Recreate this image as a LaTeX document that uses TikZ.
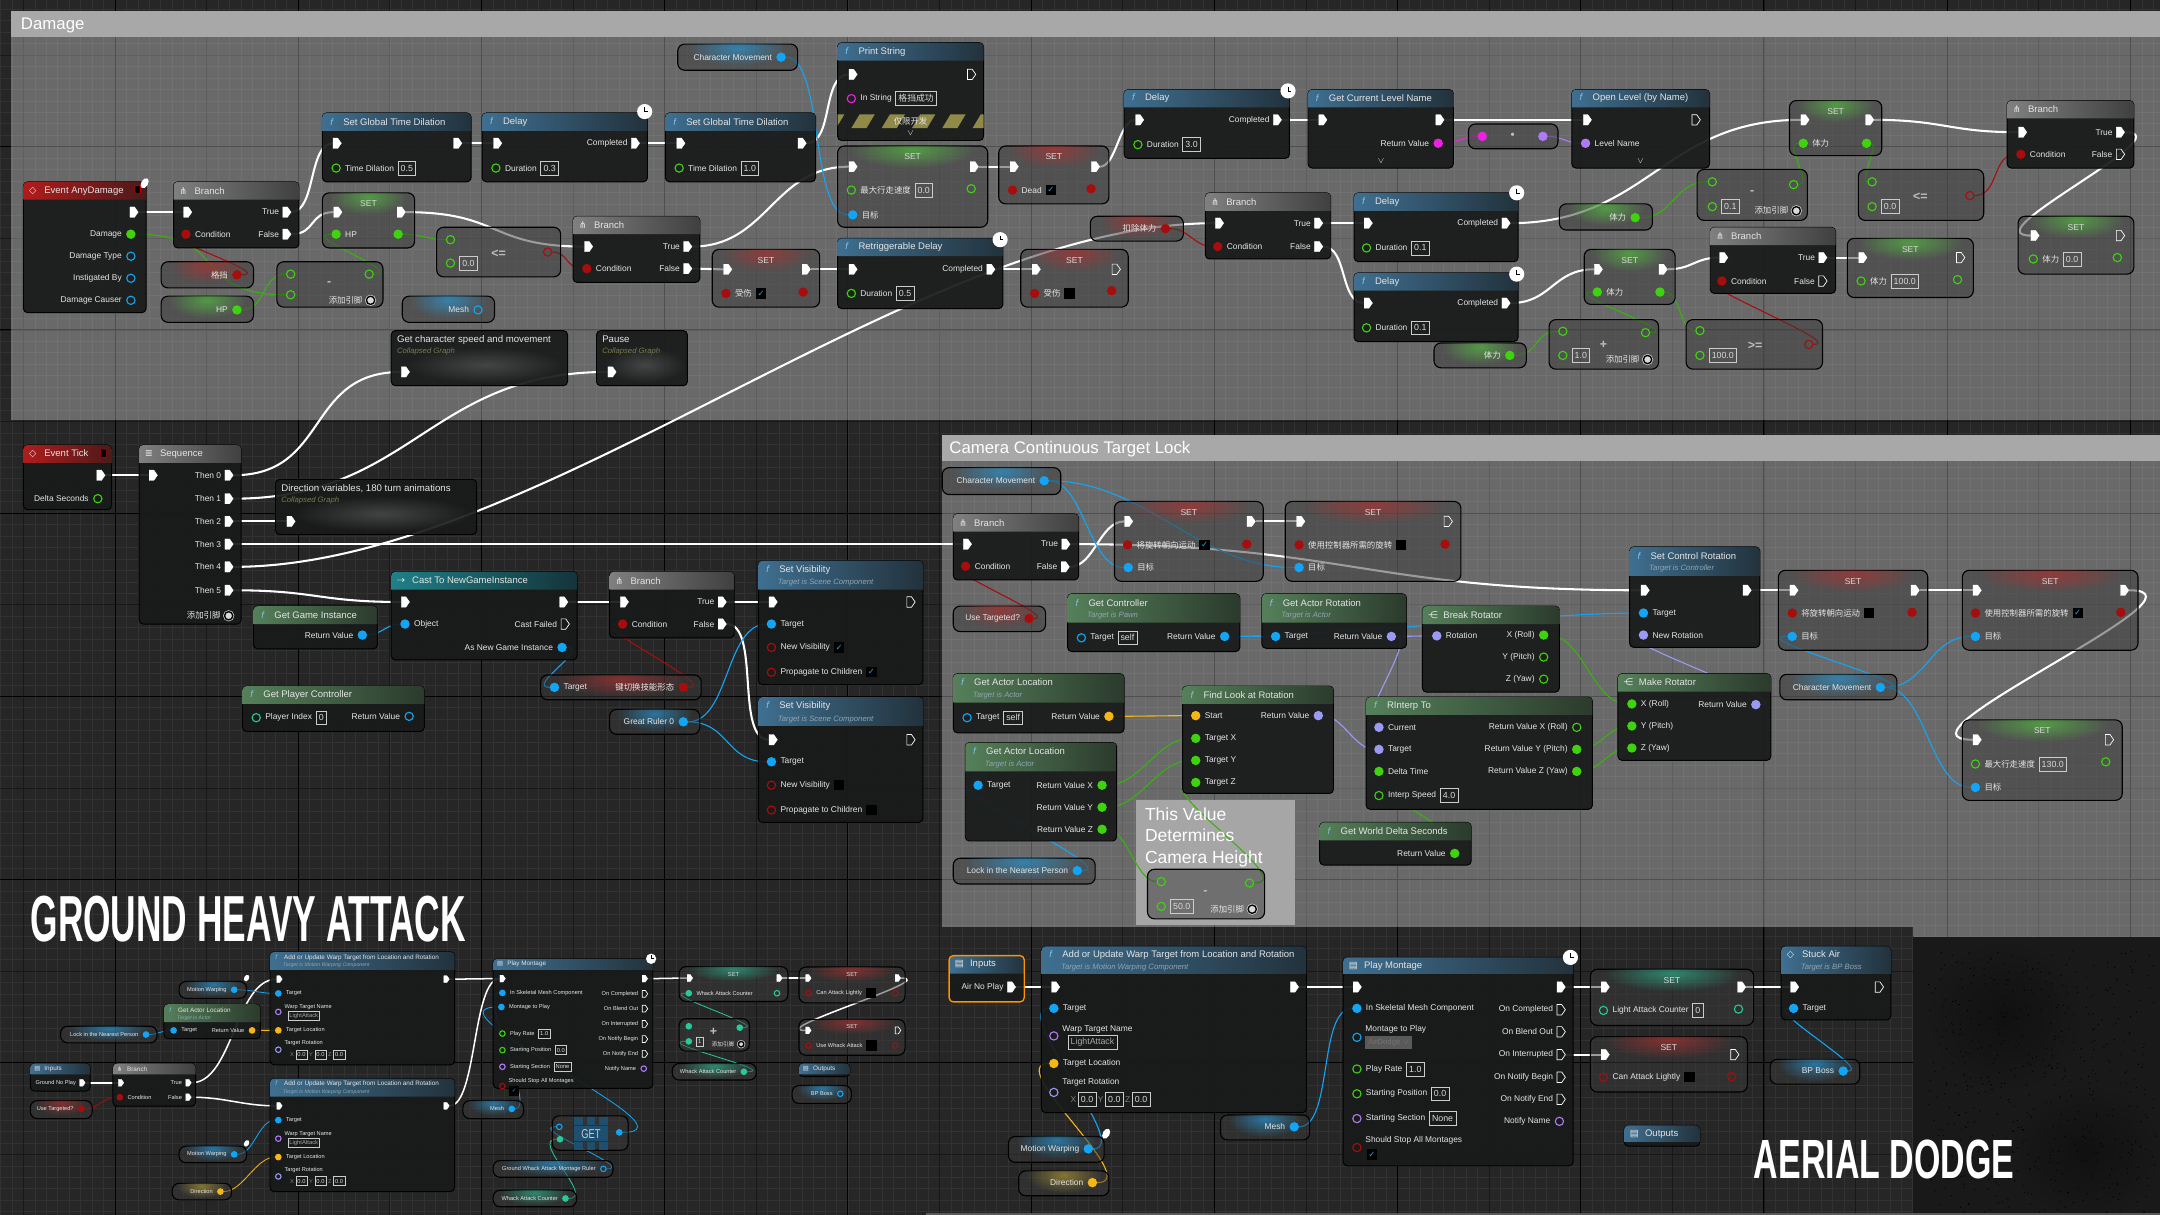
\documentclass[tikz,border=0pt]{standalone}
\usepackage{fontspec}
\setmainfont{Liberation Sans}
\newfontfamily\zhfont{Noto Sans CJK SC}
\newfontfamily\symfont{DejaVu Sans}
\usetikzlibrary{positioning,calc,shapes.symbols,shapes.geometric,fadings}
\pgfdeclarelayer{gridlayer}
\pgfdeclarelayer{wirelayer}
\pgfsetlayers{gridlayer,wirelayer,main}
\definecolor{bgdark}{HTML}{262626}
\definecolor{minorline}{HTML}{323232}
\definecolor{majorline}{HTML}{181818}
\definecolor{nodebg}{HTML}{191B1B}
\definecolor{cpbg}{HTML}{3A3A3A}
\definecolor{pgreen}{HTML}{3FD30F}
\definecolor{pblue}{HTML}{12A5F5}
\definecolor{pred}{HTML}{A80D0D}
\definecolor{pyellow}{HTML}{F5B616}
\definecolor{ppurple}{HTML}{B07AF5}
\definecolor{pmag}{HTML}{F020E0}
\definecolor{pteal}{HTML}{27C99A}
\definecolor{plav}{HTML}{9A9AF5}
\definecolor{ficol}{HTML}{7FC4F0}
\definecolor{subcol}{HTML}{8FA6B5}
\definecolor{clpcol}{HTML}{7A7B4E}
\definecolor{glowred}{HTML}{B03030}
\definecolor{glowgreen}{HTML}{55C040}
\definecolor{glowblue}{HTML}{2A9AD8}
\definecolor{glowteal}{HTML}{2FB58F}
\definecolor{glowyel}{HTML}{B09A35}
\definecolor{getblue}{HTML}{1F4F6E}
\definecolor{HfuncL}{HTML}{3F6F90}
\definecolor{HfuncR}{HTML}{22323C}
\definecolor{HpureL}{HTML}{55805A}
\definecolor{HpureR}{HTML}{2B3A2C}
\definecolor{HevL}{HTML}{B01C1C}
\definecolor{HevR}{HTML}{4B1A1A}
\definecolor{HcastL}{HTML}{1F8088}
\definecolor{HcastR}{HTML}{14343A}
\tikzfading[name=glowfade, inner color=transparent!35, outer color=transparent!100]
\newcommand{\lblfont}{\fontsize{6.1}{7}\selectfont}
\newcommand{\ttlfont}{\fontsize{6.9}{8}\selectfont}
\newcommand{\subfont}{\fontsize{5.6}{7}\itshape\selectfont}
\newcommand{\valfont}{\fontsize{6.4}{7}\selectfont}
\newcommand{\cpfont}{\fontsize{6.2}{7}\selectfont}
\newcommand{\psz}{6pt}
\newcommand{\esw}{6pt}
\newcommand{\esh}{7.5pt}
\newcommand{\ew}{1.5pt}
\newcommand{\dw}{.8pt}
\newcommand{\vsep}{2pt}
\newcommand{\vht}{10pt}
\newcommand{\cksz}{11pt}
\newcommand{\icw}{11pt}
\newcommand{\hA}{13}
\newcommand{\hB}{21}
\newcommand{\us}{1}
\newcommand{\zh}[1]{{\zhfont #1}}
\newcommand{\icf}{\makebox[\icw][l]{\hspace{.14\dimexpr\icw\relax}{\itshape\textcolor{ficol}{f}}}}
\newcommand{\icb}{\makebox[\icw][l]{\symfont ⋔}}
\newcommand{\icd}{\makebox[\icw][l]{\symfont ◇}}
\newcommand{\ics}{\makebox[\icw][l]{\symfont ≣}}
\newcommand{\icc}{\makebox[\icw][l]{\symfont ⇢}}
\newcommand{\icr}{\makebox[\icw][l]{\symfont ⋲}}
\newcommand{\icm}{\makebox[\icw][l]{\symfont ▤}}
\tikzset{
  bpbody/.style  = {rectangle, rounded corners=3pt, draw=black, line width=.7pt, fill=nodebg,
                    fill opacity=.93, anchor=north west, inner sep=0pt, outer sep=0pt},
  cpbody/.style  = {rectangle, rounded corners=5pt, draw=black, line width=.8pt, fill=cpbg,
                    fill opacity=.5, anchor=north west, inner sep=0pt, outer sep=0pt},
  ttl/.style     = {anchor=west, font=\ttlfont, text=white!90!black, inner sep=0pt},
  subttl/.style  = {anchor=west, font=\subfont, text=subcol, inner sep=0pt},
  clpsub/.style  = {anchor=west, font=\subfont, text=clpcol, inner sep=0pt},
  cptitle/.style = {font=\cpfont, text=white!85!black, inner sep=0pt},
  mathsym/.style = {font=\bfseries\fontsize{9}{9}\selectfont, text=white!75!black, inner sep=0pt},
  lbl/.style     = {font=\lblfont, text=white!90!black, inner sep=1pt},
  valbox/.style  = {draw=white!80!black, line width=.4pt, font=\valfont, text=white!85!black,
                    inner xsep=\vsep, inner ysep=0pt, minimum height=\vht},
  chkbox/.style  = {fill=black, inner sep=0pt, minimum size=7.5pt, text=pblue, font=\symfont\lblfont},
  execpin/.style = {signal, signal to=east, signal pointer angle=110, inner sep=0pt,
                    minimum width=\esw, minimum height=\esh, fill=white, draw=white, line width=.2pt},
  exechol/.style = {execpin, fill=none, line width=.5pt},
  dpin/.style    = {circle, inner sep=0pt, minimum size=\psz, line width=.8pt},
  gpin/.style    = {dpin, fill=pgreen, draw=pgreen},
  gring/.style   = {dpin, draw=pgreen},
  bpin/.style    = {dpin, fill=pblue, draw=pblue},
  bring/.style   = {dpin, draw=pblue},
  rpin/.style    = {dpin, fill=pred, draw=pred},
  rring/.style   = {dpin, draw=pred},
  ypin/.style    = {dpin, fill=pyellow, draw=pyellow},
  ppin/.style    = {dpin, fill=ppurple, draw=ppurple},
  pring/.style   = {dpin, draw=ppurple},
  mpin/.style    = {dpin, fill=pmag, draw=pmag},
  mring/.style   = {dpin, draw=pmag},
  tpin/.style    = {dpin, fill=pteal, draw=pteal},
  tring/.style   = {dpin, draw=pteal},
  lpin/.style    = {dpin, fill=plav, draw=plav},
  lring/.style   = {dpin, draw=plav},
  wring/.style   = {dpin, draw=white!85!black, fill=white!85!black, double=black, double distance=1pt, line width=.5pt},
  clockdot/.style= {circle, fill=white, inner sep=0pt, minimum size=\cksz, path picture={
                    \draw[black, line width=.5pt] (path picture bounding box.center) ++(0,-3) -- ++(0,3) -- ++(2.4,0);}},
  wdot/.style    = {ellipse, fill=white, inner sep=0pt, minimum width=5pt, minimum height=8pt, rotate=-30},
  hfunc/.style   = {left color=HfuncL, right color=HfuncR},
  hpure/.style   = {left color=HpureL, right color=HpureR},
  hgray/.style   = {left color=white!50!black, right color=black!75},
  hevent/.style  = {left color=HevL, right color=HevR},
  hcast/.style   = {left color=HcastL, right color=HcastR},
  ewire/.style   = {white, line width=\ew},
  dwire/.style   = {line width=\dw},
  gw/.style      = {dwire, pgreen!85!black},
  bw/.style      = {dwire, pblue},
  rw/.style      = {dwire, pred},
  yw/.style      = {dwire, pyellow},
  lw/.style      = {dwire, plav},
  mw/.style      = {dwire, pmag},
  pw/.style      = {dwire, ppurple},
  tw/.style      = {dwire, pteal},
  bigttl/.style  = {anchor=north west, inner sep=0pt, text=white, font=\bfseries},
  cmttl/.style   = {anchor=west, inner sep=0pt, text=white, font=\fontsize{12.2}{14}\selectfont},
}
\newcommand{\bpnode}[7]{%
  \node[bpbody,minimum width={(#4-#2)*1pt},minimum height={(#5-#3)*1pt}] (#1) at (#2,#3) {};
  \path[#6] (#2,{#3+\hA}) [rounded corners=3pt] -- (#2,#3) -- (#4,#3) [sharp corners] -- (#4,{#3+\hA}) -- cycle;
  \node[ttl] (#1-t) at ($(#2,#3)+(4*\us,\hA/2)$) {#7};}
\newcommand{\bpsub}[8]{%
  \node[bpbody,minimum width={(#4-#2)*1pt},minimum height={(#5-#3)*1pt}] (#1) at (#2,#3) {};
  \path[#6] (#2,{#3+\hB}) [rounded corners=3pt] -- (#2,#3) -- (#4,#3) [sharp corners] -- (#4,{#3+\hB}) -- cycle;
  \node[ttl] (#1-t) at ($(#2,#3)+(4*\us,\hB*.31)$) {#7};
  \node[subttl] (#1-s) at ($(#2,#3)+(14*\us,\hB*.76)$) {#8};}
\newcommand{\cpvar}[6]{%
  \node[cpbody,minimum width={(#4-#2)*1pt},minimum height={(#5-#3)*1pt}] (#1) at (#2,#3) {};
  \begin{scope}
    \clip[rounded corners=5pt] (#2,#3) rectangle (#4,#5);
    \fill[#6,path fading=glowfade] ({#2+.08*(#4-#2)},{#3-10*\us}) rectangle ({#4-.08*(#4-#2)},{#3+16*\us});
  \end{scope}}
\newcommand{\cpnode}[7]{%
  \cpvar{#1}{#2}{#3}{#4}{#5}{#6}
  \node[cptitle] (#1-t) at ({(#2+#4)/2},{#3+8*\us}) {#7};}
\newcommand{\cpmath}[8]{%
  \node[cpbody,minimum width={(#4-#2)*1pt},minimum height={(#5-#3)*1pt}] (#1) at (#2,#3) {};
  \node[mathsym] (#1-s) at (#6,#7) {#8};}
\newcommand{\clpnode}[6]{%
  \node[bpbody,minimum width={(#4-#2)*1pt},minimum height={(#5-#3)*1pt}] (#1) at (#2,#3) {};
  \fill[white!35!black,path fading=glowfade] ({#2+.08*(#4-#2)},{#3+12}) rectangle ({#4-.02*(#4-#2)},{#5-2});
  \node[ttl,font=\fontsize{7}{8}\selectfont] (#1-t) at ({#2+4},{#3+6.5}) {#6};
  \node[clpsub] (#1-s) at ({#2+4},{#3+15.5}) {Collapsed Graph};}
\newcommand{\execin}[4]{\node[execpin] (#1) at (#2,#3) {}; \node[lbl,right=1.5pt of #1] (#1-l) {#4};}
\newcommand{\execout}[4]{\node[execpin] (#1) at (#2,#3) {}; \node[lbl,left=1.5pt of #1] (#1-l) {#4};}
\newcommand{\exechl}[4]{\node[exechol] (#1) at (#2,#3) {}; \node[lbl,left=1.5pt of #1] (#1-l) {#4};}
\newcommand{\pinl}[5]{\node[#4] (#1) at (#2,#3) {}; \node[lbl,right=2pt of #1] (#1-l) {#5};}
\newcommand{\pinr}[5]{\node[#4] (#1) at (#2,#3) {}; \node[lbl,left=2pt of #1] (#1-l) {#5};}
\newcommand{\pindot}[4]{\node[#4] (#1) at (#2,#3) {};}
\newcommand{\valb}[2]{\node[valbox,right=1.5pt of #1-l] (#1-v) {#2};}
\newcommand{\valp}[2]{\node[valbox,right=3pt of #1] (#1-v) {#2};}
\newcommand{\chkb}[2]{\node[chkbox,right=1.5pt of #1-l] (#1-c) {#2};}
\newcommand{\addpin}[3]{\node[wring] (#1) at (#2,#3) {}; \node[lbl,left=1.5pt of #1] (#1-l) {\zh{添加引脚}};}
\newcommand{\clockat}[3]{\node[clockdot] (#1) at (#2,#3) {};}
\newcommand{\chev}[3]{\node[lbl] (#1) at (#2,#3) {$\vee$};}
\newcommand{\wirex}[3]{\draw[ewire] (#1.east) .. controls +(#3,0) and +(-#3,0) .. (#2.west);}
\newcommand{\wired}[4]{\draw[#1] (#2.east) .. controls +(#4,0) and +(-#4,0) .. (#3.west);}
\newcommand{\warpnode}[5]{%
  \bpsub{#1}{#2}{#3}{#4}{#5}{hfunc}{\icf Add or Update Warp Target from Location and Rotation}{Target is Motion Warping Component}
  \execin{#1-in}{{#2+9*\us}}{{#3+29.5*\us}}{}
  \execout{#1-out}{{#4-10*\us}}{{#3+29.5*\us}}{}
  \pinl{#1-tg}{{#2+9*\us}}{{#3+45*\us}}{bpin}{Target}
  \pindot{#1-wn}{{#2+9*\us}}{{#3+65*\us}}{pring}
  \node[lbl,anchor=west] (#1-wl) at ({#2+14*\us},{#3+60*\us}) {Warp Target Name};
  \node[valbox,text=white!65!black,anchor=west] (#1-wv) at ({#2+19*\us},{#3+69.5*\us}) {LightAttack};
  \pinl{#1-loc}{{#2+9*\us}}{{#3+85*\us}}{ypin}{Target Location}
  \pindot{#1-rot}{{#2+9*\us}}{{#3+106*\us}}{lring}
  \node[lbl,anchor=west] (#1-rl) at ({#2+14*\us},{#3+99*\us}) {Target Rotation};
  \node[lbl,text=white!50!black,anchor=west] (#1-xl) at ({#2+20*\us},{#3+111*\us}) {X};
  \node[valbox,right=0pt of #1-xl] (#1-xv) {0.0};
  \node[lbl,text=white!50!black,right=0pt of #1-xv] (#1-yl) {Y};
  \node[valbox,right=0pt of #1-yl] (#1-yv) {0.0};
  \node[lbl,text=white!50!black,right=0pt of #1-yv] (#1-zl) {Z};
  \node[valbox,right=0pt of #1-zl] (#1-zv) {0.0};}
\newcommand{\montnode}[5]{%
  \bpnode{#1}{#2}{#3}{#4}{#5}{hfunc}{\icm Play Montage}
  \clockat{#1-ck}{{#4-2*\us}}{#3}
  \execin{#1-in}{{#2+9*\us}}{{#3+21.5*\us}}{}
  \execout{#1-out}{{#4-10*\us}}{{#3+21.5*\us}}{}
  \pinl{#1-sk}{{#2+10*\us}}{{#3+37*\us}}{bpin}{In Skeletal Mesh Component}
  \pinl{#1-pr}{{#2+10*\us}}{{#3+81*\us}}{gring}{Play Rate} \valb{#1-pr}{1.0}
  \pinl{#1-sp}{{#2+10*\us}}{{#3+99*\us}}{gring}{Starting Position} \valb{#1-sp}{0.0}
  \pinl{#1-ss}{{#2+10*\us}}{{#3+117*\us}}{pring}{Starting Section} \valb{#1-ss}{None}
  \pindot{#1-st}{{#2+10*\us}}{{#3+138*\us}}{rring}
  \node[lbl,anchor=west] (#1-stl) at ({#2+15*\us},{#3+133*\us}) {Should Stop All Montages};
  \node[chkbox,anchor=west] (#1-stc) at ({#2+17*\us},{#3+143*\us}) {✓};
  \exechl{#1-oc}{{#4-10*\us}}{{#3+38*\us}}{On Completed}
  \exechl{#1-ob}{{#4-10*\us}}{{#3+54*\us}}{On Blend Out}
  \exechl{#1-oi}{{#4-10*\us}}{{#3+70.6*\us}}{On Interrupted}
  \exechl{#1-on}{{#4-10*\us}}{{#3+87*\us}}{On Notify Begin}
  \exechl{#1-oe}{{#4-10*\us}}{{#3+103*\us}}{On Notify End}
  \pinr{#1-nn}{{#4-10*\us}}{{#3+119*\us}}{pring}{Notify Name}}
\newcommand{\gridfill}{%
  \begin{scope}[shift={(-49.5,904.5)},y=1pt]
    \draw[minorline,line width=.5pt,step=8.3125] (0,0) grid (1680,960);
    \draw[majorline,line width=.6pt,step=66.5] (0,0) grid (1680,960);
    \draw[black,line width=.7pt,step=133] (0,0) grid (1680,960);
  \end{scope}}
\begin{document}
\begin{tikzpicture}[x=1pt,y=-1pt]
  \useasboundingbox (0,0) rectangle (1568,882);
  \begin{pgfonlayer}{gridlayer}
    \fill[bgdark] (0,0) rectangle (1568,882);
    \gridfill
    \fill[white,fill opacity=.31] (8,8) rectangle (1568,305);
    \fill[white!66!black] (8,8) rectangle (1568,27);
    \fill[white,fill opacity=.31] (683.5,316) rectangle (1568,680);
    \fill[white!66!black] (683.5,316) rectangle (1568,335);
    \begin{scope}
      \clip (0,673) rectangle (1389,882);
      \fill[bgdark] (0,673) rectangle (1389,882);
      \gridfill
    \end{scope}
    \fill[black!90] (1389,680) rectangle (1568,882);
    \fill[black,fill opacity=.5,path fading=glowfade] (1400,685) rectangle (1510,790);
    \fill[black,fill opacity=.5,path fading=glowfade] (1460,790) rectangle (1568,882);
    \pgfmathsetseed{7}
    \foreach \i in {1,...,500}
      \fill[black] ({1400+rnd*165},{690+rnd*190}) circle (.5);
    \fill[white!35!black] (672,880.5) rectangle (1568,882);
    \fill[white!65!black] (825,581) rectangle (940,671.5);
  \end{pgfonlayer}
  \node[cmttl] (damage-t) at (15,18.5) {Damage};
  \node[cmttl] (camera-t) at (689,326) {Camera Continuous Target Lock};
  \node[bigttl] (heavy-t) at (22,650) {\resizebox{316pt}{33pt}{GROUND HEAVY ATTACK}};
  \node[bigttl] (dodge-t) at (1273,827.5) {\resizebox{189pt}{28pt}{AERIAL DODGE}};
  \node[anchor=north west,inner sep=0pt,text=white,align=left,font=\fontsize{12.7}{15.6}\selectfont] (height-t) at (831,586)
    {This Value\\Determines\\Camera Height};

  \bpnode{anydmg}{17}{132}{106}{227}{hevent}{\icd Event AnyDamage}
  \node[draw=red!80!black,fill=black,rounded corners=.5pt,inner sep=0pt,minimum width=4pt,minimum height=6pt] (anydmg-sq) at (100,137.5) {};
  \node[wdot] (anydmg-dot) at (105,133) {};
  \execout{anydmg-x}{96}{154}{}
  \pinr{anydmg-d}{95}{170}{gpin}{Damage}
  \pinr{anydmg-dt}{95}{186}{bring}{Damage Type}
  \pinr{anydmg-ib}{95}{202}{bring}{Instigated By}
  \pinr{anydmg-dc}{95}{218}{bring}{Damage Causer}

  \bpnode{brA}{126}{132}{217}{180}{hgray}{\icb Branch}
  \execin{brA-in}{135}{154}{}
  \execout{brA-t}{207}{154}{True}
  \pinl{brA-c}{135}{170}{rpin}{Condition}
  \execout{brA-f}{207}{170}{False}

  \bpnode{sgtdA}{234}{82}{342}{132}{hfunc}{\icf Set Global Time Dilation}
  \execin{sgtdA-in}{243.5}{104}{}
  \execout{sgtdA-out}{331}{104}{}
  \pinl{sgtdA-v}{244}{122}{gring}{Time Dilation} \valb{sgtdA-v}{0.5}

  \bpnode{dlyA}{350}{82}{470}{132}{hfunc}{\icf Delay}
  \clockat{dlyA-ck}{468}{81}
  \execin{dlyA-in}{360}{104}{}
  \execout{dlyA-out}{460}{104}{Completed}
  \pinl{dlyA-v}{360}{122}{gring}{Duration} \valb{dlyA-v}{0.3}

  \bpnode{sgtdB}{483}{82}{592}{132}{hfunc}{\icf Set Global Time Dilation}
  \execin{sgtdB-in}{493}{104}{}
  \execout{sgtdB-out}{581}{104}{}
  \pinl{sgtdB-v}{493}{122}{gring}{Time Dilation} \valb{sgtdB-v}{1.0}

  \cpvar{charA}{492}{32}{579}{51}{glowblue}
  \pinr{charA-p}{567}{41.5}{bpin}{Character Movement}

  \bpnode{print}{608}{31}{714}{102}{hfunc}{\icf Print String}
  \execin{print-in}{618}{54}{}
  \exechl{print-out}{704}{54}{}
  \pinl{print-s}{618}{71.6}{mring}{In String} \valb{print-s}{\zh{格挡成功}}
  \begin{scope}
    \clip (608,83) rectangle (714,93);
    \foreach \hx in {596,618,...,720}
      \fill[yellow!50!black] (\hx,93) -- ({\hx+6},83) -- ({\hx+17},83) -- ({\hx+11},93) -- cycle;
  \end{scope}
  \node[lbl] (print-dev) at (661,88) {\zh{仅限开发}};
  \chev{print-ch}{661}{97}

  \cpnode{setHP}{234}{140}{301}{180}{glowgreen}{SET}
  \execin{setHP-in}{244}{154}{}
  \execout{setHP-out}{290}{154}{}
  \pinl{setHP-v}{244}{170}{gpin}{HP}
  \pindot{setHP-o}{289}{170}{gpin}

  \cpnode{setMax}{608}{106}{717}{165}{glowgreen}{SET}
  \execin{setMax-in}{618}{121}{}
  \execout{setMax-out}{706}{121}{}
  \pinl{setMax-v}{618}{138}{gring}{\zh{最大行走速度}} \valb{setMax-v}{0.0}
  \pindot{setMax-o}{705}{137}{gring}
  \pinl{setMax-tg}{619}{156}{bpin}{\zh{目标}}

  \cpnode{setDead}{725}{106}{805}{148}{glowred}{SET}
  \execin{setDead-in}{735}{121}{}
  \execout{setDead-out}{794}{121}{}
  \pinl{setDead-v}{735}{138}{rpin}{Dead} \chkb{setDead-v}{✓}
  \pindot{setDead-o}{792}{137}{rpin}

  \cpvar{varGd}{117}{190}{184}{209}{glowred}
  \pinr{varGd-p}{172}{199.5}{rpin}{\zh{格挡}}
  \cpvar{varHP}{117}{215}{184}{234}{glowgreen}
  \pinr{varHP-p}{172}{225}{gpin}{HP}
  \cpmath{subA}{201}{190}{278}{223}{239}{206}{-}
  \pindot{subA-a}{211}{199}{gring}
  \pindot{subA-b}{211}{214}{gring}
  \pindot{subA-o}{268}{199}{gring}
  \addpin{subA-add}{269}{218}

  \cpmath{leA}{317}{165}{407}{201}{362}{184}{<=}
  \pindot{leA-a}{327}{174}{gring}
  \pindot{leA-b}{327}{191}{gring} \valp{leA-b}{0.0}
  \pindot{leA-o}{397.5}{183}{rring}

  \bpnode{brB}{416}{157}{508}{205}{hgray}{\icb Branch}
  \execin{brB-in}{426}{179}{}
  \execout{brB-t}{498}{179}{True}
  \pinl{brB-c}{426}{195}{rpin}{Condition}
  \execout{brB-f}{498}{195}{False}

  \cpvar{varMesh}{292}{215}{359}{234}{glowblue}
  \pinr{varMesh-p}{347}{225}{bring}{Mesh}

  \cpnode{setHurtA}{517}{181}{595}{223}{glowred}{SET}
  \execin{setHurtA-in}{527}{195.5}{}
  \execout{setHurtA-out}{584}{195.5}{}
  \pinl{setHurtA-v}{527}{213}{rpin}{\zh{受伤}} \chkb{setHurtA-v}{✓}
  \pindot{setHurtA-o}{583}{212}{rpin}

  \bpnode{retrig}{608}{173}{728}{224}{hfunc}{\icf Retriggerable Delay}
  \clockat{retrig-ck}{726}{174}
  \execin{retrig-in}{618}{195.5}{}
  \execout{retrig-out}{718}{195.5}{Completed}
  \pinl{retrig-v}{618}{213}{gring}{Duration} \valb{retrig-v}{0.5}

  \cpnode{setHurtB}{741}{181}{819}{223}{glowred}{SET}
  \execin{setHurtB-in}{751}{195.5}{}
  \exechl{setHurtB-out}{809}{195.5}{}
  \pinl{setHurtB-v}{751}{213}{rpin}{\zh{受伤}} \chkb{setHurtB-v}{}
  \pindot{setHurtB-o}{807}{211}{rpin}

  \clpnode{clpSpeed}{284}{240}{412}{280}{Get character speed and movement}
  \execin{clpSpeed-in}{293}{270}{}
  \clpnode{clpPause}{433}{240}{499}{280}{Pause}
  \execin{clpPause-in}{443}{270}{}

  \bpnode{dlyB}{816}{65}{936}{115}{hfunc}{\icf Delay}
  \clockat{dlyB-ck}{935}{66}
  \execin{dlyB-in}{826}{87}{}
  \execout{dlyB-out}{926}{87}{Completed}
  \pinl{dlyB-v}{826}{105}{gring}{Duration} \valb{dlyB-v}{3.0}

  \bpnode{curLvl}{949.5}{65}{1055}{122}{hfunc}{\icf Get Current Level Name}
  \execin{curLvl-in}{959}{87}{}
  \execout{curLvl-out}{1044}{87}{}
  \pinr{curLvl-r}{1044}{104}{mpin}{Return Value}
  \chev{curLvl-ch}{1002.5}{117}

  \cpmath{conv}{1066}{90}{1131}{108}{1098}{98}{\tiny$\bullet$}
  \pindot{conv-a}{1076}{99}{mpin}
  \pindot{conv-b}{1120}{99}{ppin}

  \bpnode{openLvl}{1141}{65}{1241}{122}{hfunc}{\icf Open Level (by Name)}
  \execin{openLvl-in}{1151}{87}{}
  \exechl{openLvl-out}{1230}{87}{}
  \pinl{openLvl-n}{1151}{104}{ppin}{Level Name}
  \chev{openLvl-ch}{1191}{117}

  \cpnode{setStA}{1299}{73}{1366}{113}{glowgreen}{SET}
  \execin{setStA-in}{1309}{87}{}
  \execout{setStA-out}{1356}{87}{}
  \pinl{setStA-v}{1309}{104}{gpin}{\zh{体力}}
  \pindot{setStA-o}{1355}{104}{gpin}

  \bpnode{brF}{1457}{73}{1549}{122}{hgray}{\icb Branch}
  \execin{brF-in}{1467}{96}{}
  \execout{brF-t}{1538}{96}{True}
  \pinl{brF-c}{1467}{112}{rpin}{Condition}
  \exechl{brF-f}{1538}{112}{False}

  \cpmath{subB}{1232}{123}{1312}{160}{1272}{140}{-}
  \pindot{subB-a}{1243}{132}{gring}
  \pindot{subB-b}{1243}{150}{gring} \valp{subB-b}{0.1}
  \pindot{subB-o}{1302}{134}{gring}
  \addpin{subB-add}{1304}{153}

  \cpmath{leB}{1349}{123}{1440}{160}{1394}{143}{<=}
  \pindot{leB-a}{1359}{132}{gring}
  \pindot{leB-b}{1359}{150}{gring} \valp{leB-b}{0.0}
  \pindot{leB-o}{1430}{142}{rring}

  \cpvar{varCut}{791.5}{157}{859}{175}{glowred}
  \pinr{varCut-p}{846}{166}{rpin}{\zh{扣除体力}}

  \bpnode{brC}{875}{140}{966}{188}{hgray}{\icb Branch}
  \execin{brC-in}{884}{162}{}
  \execout{brC-t}{956}{162}{True}
  \pinl{brC-c}{884}{179}{rpin}{Condition}
  \execout{brC-f}{956}{179}{False}

  \bpnode{dlyC}{983}{140}{1102}{190}{hfunc}{\icf Delay}
  \clockat{dlyC-ck}{1101}{140}
  \execin{dlyC-in}{992}{162}{}
  \execout{dlyC-out}{1092}{162}{Completed}
  \pinl{dlyC-v}{992}{180}{gring}{Duration} \valb{dlyC-v}{0.1}

  \bpnode{dlyD}{983}{198}{1102}{248}{hfunc}{\icf Delay}
  \clockat{dlyD-ck}{1101}{199}
  \execin{dlyD-in}{992}{220}{}
  \execout{dlyD-out}{1092}{220}{Completed}
  \pinl{dlyD-v}{992}{238}{gring}{Duration} \valb{dlyD-v}{0.1}

  \cpvar{varStA}{1132}{148}{1199.5}{167}{glowgreen}
  \pinr{varStA-p}{1187}{158}{gpin}{\zh{体力}}
  \cpvar{varStB}{1041}{249}{1108}{267}{glowgreen}
  \pinr{varStB-p}{1096}{258}{gpin}{\zh{体力}}

  \cpnode{setStB}{1150}{181}{1216}{221}{glowgreen}{SET}
  \execin{setStB-in}{1159}{195.5}{}
  \execout{setStB-out}{1206}{195.5}{}
  \pinl{setStB-v}{1159.5}{212}{gpin}{\zh{体力}}
  \pindot{setStB-o}{1205}{212}{gpin}

  \cpmath{addA}{1124.5}{232}{1204}{268}{1164}{250}{+}
  \pindot{addA-a}{1134.5}{240.5}{gring}
  \pindot{addA-b}{1134.5}{258}{gring} \valp{addA-b}{1.0}
  \pindot{addA-o}{1194.5}{241.5}{gring}
  \addpin{addA-add}{1196}{261}

  \bpnode{brD}{1241.5}{165}{1332.5}{213}{hgray}{\icb Branch}
  \execin{brD-in}{1250}{187}{}
  \execout{brD-t}{1322}{187}{True}
  \pinl{brD-c}{1250}{204}{rpin}{Condition}
  \exechl{brD-f}{1322}{204}{False}

  \cpnode{setStC}{1341}{173}{1432.5}{216}{glowgreen}{SET}
  \execin{setStC-in}{1351}{187}{}
  \exechl{setStC-out}{1422}{187}{}
  \pinl{setStC-v}{1351}{204}{gring}{\zh{体力}} \valb{setStC-v}{100.0}
  \pindot{setStC-o}{1421}{203}{gring}

  \cpmath{geA}{1224}{232}{1323}{268}{1274}{251}{>=}
  \pindot{geA-a}{1234}{240}{gring}
  \pindot{geA-b}{1234}{258}{gring} \valp{geA-b}{100.0}
  \pindot{geA-o}{1313}{250}{rring}

  \cpnode{setStD}{1465}{157}{1549}{199}{glowgreen}{SET}
  \execin{setStD-in}{1476}{171}{}
  \exechl{setStD-out}{1538}{171}{}
  \pinl{setStD-v}{1476}{188}{gring}{\zh{体力}} \valb{setStD-v}{0.0}
  \pindot{setStD-o}{1537}{187}{gring}

  \bpnode{tick}{17}{323}{81}{370}{hevent}{\icd Event Tick}
  \node[draw=red!80!black,fill=black,rounded corners=.5pt,inner sep=0pt,minimum width=4pt,minimum height=6pt] (tick-sq) at (75,329) {};
  \execout{tick-x}{72}{345}{}
  \pinr{tick-d}{71}{362}{gring}{Delta Seconds}

  \bpnode{seq}{101}{323}{175}{453}{hgray}{\ics Sequence}
  \execin{seq-in}{110}{345}{}
  \execout{seq-a}{165}{345}{Then 0}
  \execout{seq-b}{165}{362}{Then 1}
  \execout{seq-c}{165}{378.5}{Then 2}
  \execout{seq-d}{165}{395}{Then 3}
  \execout{seq-e}{165}{411.5}{Then 4}
  \execout{seq-f}{165}{428.5}{Then 5}
  \addpin{seq-add}{166}{447}

  \clpnode{clpDir}{200}{348}{346}{388}{Direction variables, 180 turn animations}
  \execin{clpDir-in}{210}{378.5}{}

  \bpnode{cast}{284}{415}{419}{479}{hcast}{\icc Cast To NewGameInstance}
  \execin{cast-in}{293}{437}{}
  \execout{cast-out}{408}{437}{}
  \pinl{cast-o}{294}{453}{bpin}{Object}
  \exechl{cast-f}{409}{453}{Cast Failed}
  \pinr{cast-r}{408}{470}{bpin}{As New Game Instance}

  \bpnode{gameInst}{184}{440}{274}{471}{hpure}{\icf Get Game Instance}
  \pinr{gameInst-r}{263}{461}{bpin}{Return Value}

  \bpnode{playerC}{176}{498}{308}{531}{hpure}{\icf Get Player Controller}
  \pinl{playerC-i}{186}{521}{tring}{Player Index} \valb{playerC-i}{0}
  \pinr{playerC-r}{297}{520}{bring}{Return Value}

  \bpnode{brE}{442.5}{415}{533}{463}{hgray}{\icb Branch}
  \execin{brE-in}{452}{437}{}
  \execout{brE-t}{523}{437}{True}
  \pinl{brE-c}{452}{453}{rpin}{Condition}
  \execout{brE-f}{523}{453}{False}

  \bpsub{visA}{550.5}{407}{670}{497}{hfunc}{\icf Set Visibility}{Target is Scene Component}
  \execin{visA-in}{560}{437}{}
  \exechl{visA-out}{660}{437}{}
  \pinl{visA-tg}{560}{453}{bpin}{Target}
  \pinl{visA-n}{560}{470}{rring}{New Visibility} \chkb{visA-n}{✓}
  \pinl{visA-p}{560}{488}{rring}{Propagate to Children} \chkb{visA-p}{✓}

  \bpsub{visB}{550.5}{506}{670}{597}{hfunc}{\icf Set Visibility}{Target is Scene Component}
  \execin{visB-in}{560}{537}{}
  \exechl{visB-out}{660}{537}{}
  \pinl{visB-tg}{560}{553}{bpin}{Target}
  \pinl{visB-n}{560}{570}{rring}{New Visibility} \chkb{visB-n}{}
  \pinl{visB-p}{560}{588}{rring}{Propagate to Children} \chkb{visB-p}{}

  \cpvar{varKey}{392.5}{490}{509}{508}{glowred}
  \pinl{varKey-a}{402.5}{499}{bpin}{Target}
  \pinr{varKey-o}{496}{499}{rpin}{\zh{键切换技能形态}}
  \cpvar{varRuler}{442.5}{515}{508}{533}{glowblue}
  \pinr{varRuler-p}{496}{524}{bpin}{Great Ruler 0}

  \cpvar{charB}{684}{339.5}{770}{359}{glowblue}
  \pinr{charB-p}{758}{349}{bpin}{Character Movement}

  \bpnode{brG}{692}{373}{783}{421}{hgray}{\icb Branch}
  \execin{brG-in}{701}{395}{}
  \execout{brG-t}{772.5}{395}{True}
  \pinl{brG-c}{701}{411}{rpin}{Condition}
  \execout{brG-f}{772}{411.5}{False}

  \cpnode{setRotA}{809}{364}{917}{422}{glowred}{SET}
  \execin{setRotA-in}{818}{378.5}{}
  \execout{setRotA-out}{907}{378.5}{}
  \pinl{setRotA-v}{818.5}{395.5}{rpin}{\zh{将旋转朝向运动}} \chkb{setRotA-v}{✓}
  \pindot{setRotA-o}{905}{395}{rpin}
  \pinl{setRotA-tg}{819}{412}{bpin}{\zh{目标}}

  \cpnode{setCtlA}{933}{364}{1060.5}{422}{glowred}{SET}
  \execin{setCtlA-in}{943}{378.5}{}
  \exechl{setCtlA-out}{1050}{378.5}{}
  \pinl{setCtlA-v}{943}{395.5}{rpin}{\zh{使用控制器所需的旋转}} \chkb{setCtlA-v}{}
  \pindot{setCtlA-o}{1049}{395}{rpin}
  \pinl{setCtlA-tg}{943}{412}{bpin}{\zh{目标}}

  \cpvar{varUse}{692}{440}{759}{458.5}{glowred}
  \pinr{varUse-p}{747}{449}{rpin}{Use Targeted?}

  \bpsub{getCtl}{775}{431}{900}{473}{hpure}{\icf Get Controller}{Target is Pawn}
  \pinl{getCtl-tg}{785}{463}{bring}{Target} \valb{getCtl-tg}{self}
  \pinr{getCtl-r}{889}{462}{bpin}{Return Value}

  \bpsub{getRot}{916}{431}{1021}{470.6}{hpure}{\icf Get Actor Rotation}{Target is Actor}
  \pinl{getRot-tg}{926}{462}{bpin}{Target}
  \pinr{getRot-r}{1010}{462}{lpin}{Return Value}

  \bpnode{brkRot}{1032.6}{440}{1132}{502.5}{hpure}{\icr Break Rotator}
  \pinl{brkRot-i}{1043}{461.6}{lpin}{Rotation}
  \pinr{brkRot-x}{1120.6}{461}{gpin}{X (Roll)}
  \pinr{brkRot-y}{1120.6}{477}{gring}{Y (Pitch)}
  \pinr{brkRot-z}{1120.6}{493}{gring}{Z (Yaw)}

  \bpsub{ctlRot}{1183}{397}{1277.5}{470}{hfunc}{\icf Set Control Rotation}{Target is Controller}
  \execin{ctlRot-in}{1193}{428.5}{}
  \execout{ctlRot-out}{1267}{428.5}{}
  \pinl{ctlRot-tg}{1193}{445}{bpin}{Target}
  \pinl{ctlRot-n}{1193}{461}{lpin}{New Rotation}

  \cpnode{setRotB}{1291}{414}{1399.4}{472}{glowred}{SET}
  \execin{setRotB-in}{1301}{428.5}{}
  \execout{setRotB-out}{1389}{428.5}{}
  \pinl{setRotB-v}{1301}{445}{rpin}{\zh{将旋转朝向运动}} \chkb{setRotB-v}{}
  \pindot{setRotB-o}{1388}{444.5}{rpin}
  \pinl{setRotB-tg}{1301}{462}{bpin}{\zh{目标}}

  \cpnode{setCtlB}{1424.5}{414}{1552}{472}{glowred}{SET}
  \execin{setCtlB-in}{1434}{428.5}{}
  \execout{setCtlB-out}{1541}{428.5}{}
  \pinl{setCtlB-v}{1434}{445}{rpin}{\zh{使用控制器所需的旋转}} \chkb{setCtlB-v}{✓}
  \pindot{setCtlB-o}{1539.5}{444.5}{rpin}
  \pinl{setCtlB-tg}{1434}{462}{bpin}{\zh{目标}}

  \bpsub{locA}{692}{489}{816}{532}{hpure}{\icf Get Actor Location}{Target is Actor}
  \pinl{locA-tg}{702}{521}{bring}{Target} \valb{locA-tg}{self}
  \pinr{locA-r}{805}{520}{ypin}{Return Value}

  \bpsub{locB}{700.7}{539}{810.6}{610.5}{hpure}{\icf Get Actor Location}{Target is Actor}
  \pinl{locB-tg}{710}{570}{bpin}{Target}
  \pinr{locB-x}{800}{570}{gpin}{Return Value X}
  \pinr{locB-y}{800}{586}{gpin}{Return Value Y}
  \pinr{locB-z}{800}{602}{gpin}{Return Value Z}

  \bpnode{findRot}{858.5}{498}{968}{576}{hpure}{\icf Find Look at Rotation}
  \pinl{findRot-s}{868}{519.5}{ypin}{Start}
  \pinl{findRot-x}{868}{536}{gpin}{Target X}
  \pinl{findRot-y}{868}{552}{gpin}{Target Y}
  \pinl{findRot-z}{868}{568}{gpin}{Target Z}
  \pinr{findRot-r}{957}{519.5}{lpin}{Return Value}

  \bpnode{rinterp}{991.7}{506}{1156}{587.5}{hpure}{\icf RInterp To}
  \pinl{rinterp-c}{1001}{528}{lpin}{Current}
  \pinl{rinterp-t}{1001}{544}{lpin}{Target}
  \pinl{rinterp-d}{1001}{560}{gpin}{Delta Time}
  \pinl{rinterp-s}{1001}{577.5}{gring}{Interp Speed} \valb{rinterp-s}{4.0}
  \pinr{rinterp-x}{1144.6}{528}{gring}{Return Value X (Roll)}
  \pinr{rinterp-y}{1144.6}{544}{gpin}{Return Value Y (Pitch)}
  \pinr{rinterp-z}{1144.6}{560}{gpin}{Return Value Z (Yaw)}

  \bpnode{mkRot}{1174.5}{489}{1285.5}{552}{hpure}{\icr Make Rotator}
  \pinl{mkRot-x}{1184.6}{511}{gpin}{X (Roll)}
  \pinl{mkRot-y}{1184.6}{527}{gpin}{Y (Pitch)}
  \pinl{mkRot-z}{1184.6}{543}{gpin}{Z (Yaw)}
  \pinr{mkRot-r}{1274.6}{511.5}{lpin}{Return Value}

  \cpvar{charC}{1292}{489.5}{1377}{508}{glowblue}
  \pinr{charC-p}{1365}{499}{bpin}{Character Movement}

  \cpnode{setMaxB}{1424.5}{522.6}{1540.6}{581}{glowgreen}{SET}
  \execin{setMaxB-in}{1434}{537}{}
  \exechl{setMaxB-out}{1530}{537}{}
  \pinl{setMaxB-v}{1434}{554.6}{gring}{\zh{最大行走速度}} \valb{setMaxB-v}{130.0}
  \pindot{setMaxB-o}{1528.6}{553}{gring}
  \pinl{setMaxB-tg}{1434}{571.6}{bpin}{\zh{目标}}

  \cpmath{subC}{833}{631}{918}{667}{875}{648}{-}
  \pindot{subC-a}{843}{640}{gring}
  \pindot{subC-b}{843}{658}{gring} \valp{subC-b}{50.0}
  \pindot{subC-o}{907}{641}{gring}
  \addpin{subC-add}{909}{660}

  \bpnode{worldDt}{958}{597}{1068}{628}{hpure}{\icf Get World Delta Seconds}
  \pinr{worldDt-r}{1056}{619.5}{gpin}{Return Value}

  \cpvar{varLockA}{692}{623}{795}{641.7}{glowblue}
  \pinr{varLockA-p}{782}{632}{bpin}{Lock in the Nearest Person}

  \bpnode{inAir}{689}{693.7}{743.5}{727.3}{hfunc}{\icm Inputs}
  \draw[orange!85!yellow,line width=1pt,rounded corners=3pt] (inAir.north west) rectangle (inAir.south east);
  \execout{inAir-x}{733}{716.5}{Air No Play}

  \renewcommand{\hB}{20}
  \warpnode{warpA}{756}{687}{948.4}{807.7}
  \renewcommand{\hA}{12}
  \montnode{montA}{975}{695}{1142}{846.4}
  \node[bring] (montA-mp) at (985,753) {};
  \node[lbl,anchor=west] (montA-mpl) at (990,747.5) {Montage to Play};
  \node[fill=black!65,font=\subfont,text=white!45!black,inner sep=2pt,anchor=west] (montA-mpv) at (991,757) {\upshape AirDodge $\vee$};

  \cpnode{setLight}{1154.5}{703.6}{1273}{744.3}{glowteal}{SET}
  \execin{setLight-in}{1164}{716.5}{}
  \execout{setLight-out}{1263}{716.5}{}
  \pinl{setLight-v}{1164}{733.5}{tring}{Light Attack Counter} \valb{setLight-v}{0}
  \pindot{setLight-o}{1262}{732.5}{tring}

  \cpnode{setCan}{1154.5}{752.5}{1268.4}{792.7}{glowred}{SET}
  \execin{setCan-in}{1164}{765.6}{}
  \exechl{setCan-out}{1258}{765.6}{}
  \pinl{setCan-v}{1164}{782}{rring}{Can Attack Lightly} \chkb{setCan-v}{}
  \pindot{setCan-o}{1257}{781.5}{rring}

  \bpsub{stuck}{1293}{687}{1372.6}{740.4}{hfunc}{\icd Stuck Air}{Target is BP Boss}
  \execin{stuck-in}{1301.5}{716.5}{}
  \exechl{stuck-out}{1363}{716.5}{}
  \pinl{stuck-tg}{1302}{732}{bpin}{Target}

  \cpvar{varBossA}{1285}{769}{1350}{787}{glowblue}
  \pinr{varBossA-p}{1338}{777.5}{bpin}{BP Boss}
  \bpnode{outAir}{1179}{817}{1234}{832}{hfunc}{\icm Outputs}
  \cpvar{varMeshA}{886}{809.4}{950.7}{827.5}{glowblue}
  \pinr{varMeshA-p}{939.5}{818}{bpin}{Mesh}
  \cpvar{varMwA}{732}{825}{801.5}{843.7}{glowblue}
  \pinr{varMwA-p}{790}{834}{bpin}{Motion Warping}
  \node[wdot] (varMwA-dot) at (803,823) {};
  \cpvar{varDirA}{739.5}{850}{805}{868}{glowyel}
  \pinr{varDirA-p}{793}{858.5}{ypin}{Direction}

  \begin{pgfonlayer}{wirelayer}
    \wirex{anydmg-x}{brA-in}{10}
    \wirex{brA-t}{sgtdA-in}{18}
    \wirex{brA-f}{setHP-in}{18}
    \wirex{sgtdA-out}{dlyA-in}{8}
    \wirex{dlyA-out}{sgtdB-in}{8}
    \wirex{sgtdB-out}{print-in}{20}
    \wirex{setHP-out}{brB-in}{70}
    \wirex{brB-t}{setMax-in}{55}
    \wirex{brB-f}{setHurtA-in}{8}
    \wirex{setHurtA-out}{retrig-in}{8}
    \wirex{retrig-out}{setHurtB-in}{8}
    \wirex{setMax-out}{setDead-in}{8}
    \wirex{setDead-out}{dlyB-in}{12}
    \wirex{dlyB-out}{curLvl-in}{8}
    \wirex{curLvl-out}{openLvl-in}{30}
    \wirex{seq-a}{clpSpeed-in}{70}
    \wirex{seq-b}{clpPause-in}{130}
    \wirex{seq-c}{clpDir-in}{10}
    \wirex{seq-d}{brG-in}{30}
    \wirex{seq-e}{brC-in}{220}
    \wirex{seq-f}{cast-in}{60}
    \wirex{tick-x}{seq-in}{8}
    \wirex{brC-t}{dlyC-in}{8}
    \wirex{brC-f}{dlyD-in}{18}
    \wirex{dlyC-out}{setStA-in}{100}
    \wirex{dlyD-out}{setStB-in}{30}
    \wirex{setStB-out}{brD-in}{18}
    \wirex{brD-t}{setStC-in}{8}
    \wirex{setStA-out}{brF-in}{50}
    \wirex{brF-t}{setStD-in}{45}
    \wirex{cast-out}{brE-in}{10}
    \wirex{brE-t}{visA-in}{10}
    \wirex{brE-f}{visB-in}{25}
    \wirex{brG-t}{ctlRot-in}{200}
    \wirex{brG-f}{setRotA-in}{18}
    \wirex{setRotA-out}{setCtlA-in}{8}
    \wirex{ctlRot-out}{setRotB-in}{8}
    \wirex{setRotB-out}{setCtlB-in}{12}
    \wirex{setCtlB-out}{setMaxB-in}{70}
    \wirex{inAir-x}{warpA-in}{6}
    \wirex{warpA-out}{montA-in}{12}
    \wirex{montA-out}{setLight-in}{8}
    \wirex{montA-oi}{setCan-in}{8}
    \wirex{setLight-out}{stuck-in}{10}
    \wired{gw}{anydmg-d}{subA-b}{70}
    \wired{gw}{varHP-p}{subA-a}{18}
    \wired{gw}{subA-o}{setHP-v}{25}
    \wired{gw}{setHP-o}{leA-a}{12}
    \wired{rw}{varGd-p}{brA-c}{25}
    \wired{rw}{leA-o}{brB-c}{12}
    \wired{bw}{charA-p}{setMax-tg}{28}
    \wired{mw}{curLvl-r}{conv-a}{10}
    \wired{pw}{conv-b}{openLvl-n}{10}
    \wired{gw}{varStA-p}{subB-a}{25}
    \wired{gw}{subB-o}{setStA-v}{12}
    \wired{gw}{setStA-o}{leB-a}{6}
    \wired{rw}{leB-o}{brF-c}{18}
    \wired{rw}{varCut-p}{brC-c}{14}
    \wired{gw}{varStB-p}{addA-a}{18}
    \wired{gw}{addA-o}{setStB-v}{25}
    \wired{gw}{setStB-o}{geA-a}{12}
    \wired{rw}{geA-o}{brD-c}{25}
    \wired{bw}{gameInst-r}{cast-o}{10}
    \wired{bw}{cast-r}{varKey-a}{18}
    \wired{rw}{varKey-o}{brE-c}{25}
    \wired{bw}{varRuler-p}{visA-tg}{30}
    \wired{bw}{varRuler-p}{visB-tg}{30}
    \wired{bw}{charB-p}{setRotA-tg}{25}
    \wired{bw}{charB-p}{setCtlA-tg}{70}
    \wired{rw}{varUse-p}{brG-c}{20}
    \wired{bw}{getCtl-r}{getRot-tg}{8}
    \wired{bw}{getCtl-r}{ctlRot-tg}{70}
    \wired{lw}{getRot-r}{brkRot-i}{8}
    \wired{lw}{getRot-r}{rinterp-c}{16}
    \wired{gw}{brkRot-x}{mkRot-x}{25}
    \wired{lw}{mkRot-r}{ctlRot-n}{30}
    \wired{yw}{locA-r}{findRot-s}{14}
    \wired{gw}{locB-x}{findRot-x}{25}
    \wired{gw}{locB-y}{findRot-y}{25}
    \wired{gw}{locB-z}{subC-a}{15}
    \wired{gw}{subC-o}{findRot-z}{35}
    \wired{bw}{varLockA-p}{locB-tg}{30}
    \wired{lw}{findRot-r}{rinterp-t}{14}
    \wired{gw}{rinterp-y}{mkRot-y}{12}
    \wired{gw}{rinterp-z}{mkRot-z}{12}
    \wired{gw}{worldDt-r}{rinterp-d}{35}
    \wired{bw}{charC-p}{setRotB-tg}{35}
    \wired{bw}{charC-p}{setCtlB-tg}{30}
    \wired{bw}{charC-p}{setMaxB-tg}{30}
    \wired{bw}{varMeshA-p}{montA-sk}{25}
    \wired{bw}{varMwA-p}{warpA-tg}{30}
    \wired{yw}{varDirA-p}{warpA-loc}{35}
    \wired{bw}{varBossA-p}{stuck-tg}{18}
  \end{pgfonlayer}

  \begin{scope}
    \renewcommand{\lblfont}{\fontsize{4.1}{5}\selectfont}
    \renewcommand{\ttlfont}{\fontsize{4.6}{5.5}\selectfont}
    \renewcommand{\subfont}{\fontsize{3.8}{5}\itshape\selectfont}
    \renewcommand{\valfont}{\fontsize{4.2}{5}\selectfont}
    \renewcommand{\cpfont}{\fontsize{4.2}{5}\selectfont}
    \renewcommand{\psz}{4pt}
    \renewcommand{\esw}{4pt}
    \renewcommand{\esh}{5pt}
    \renewcommand{\ew}{1.1pt}
    \renewcommand{\dw}{.6pt}
    \renewcommand{\vsep}{1.2pt}
    \renewcommand{\vht}{6.5pt}
    \renewcommand{\cksz}{7.5pt}
    \renewcommand{\icw}{7.4pt}
    \renewcommand{\hA}{8}
    \renewcommand{\hB}{13}
    \renewcommand{\us}{.67}
    \warpnode{warpB}{196}{691}{330}{773}
    \warpnode{warpC}{196}{783}{330}{865}
    \montnode{montB}{358}{696}{474}{790}
    \pinl{montB-mp}{364}{731}{bpin}{Montage to Play}

    \cpnode{setWhack}{493}{701.7}{572}{727}{glowteal}{SET}
    \execin{setWhack-in}{500}{710}{}
    \execout{setWhack-out}{565}{710}{}
    \pinl{setWhack-v}{500}{721}{tpin}{Whack Attack Counter}
    \pindot{setWhack-o}{564}{721}{tring}

    \cpnode{setCanB}{580}{702}{657}{728}{glowred}{SET}
    \execin{setCanB-in}{586}{710}{}
    \execout{setCanB-out}{651}{710}{}
    \pinl{setCanB-v}{587}{721}{rring}{Can Attack Lightly} \chkb{setCanB-v}{}
    \pindot{setCanB-o}{650}{721}{rring}

    \cpnode{setUse}{580}{740}{657}{766}{glowred}{SET}
    \execin{setUse-in}{586}{748}{}
    \exechl{setUse-out}{651}{748}{}
    \pinl{setUse-v}{587}{759}{rring}{Use Whack Attack} \chkb{setUse-v}{}
    \pindot{setUse-o}{650}{759}{rring}

    \cpmath{addB}{493}{739.5}{544}{763}{518}{749}{+}
    \pindot{addB-a}{500}{745}{tpin}
    \pindot{addB-b}{500}{756}{tpin} \valp{addB-b}{1}
    \pindot{addB-o}{537}{746}{tpin}
    \addpin{addB-add}{538}{758}

    \cpvar{varWhackA}{488}{772}{549}{784}{glowteal}
    \pinr{varWhackA-p}{540}{778}{tpin}{Whack Attack Counter}
    \bpnode{outB}{580}{772}{617}{781.5}{hfunc}{\icm Outputs}
    \cpvar{varBossB}{575}{788}{618}{801}{glowblue}
    \pinr{varBossB-p}{610}{794}{bring}{BP Boss}

    \bpnode{inB}{22}{772}{65.5}{792}{hfunc}{\icm Inputs}
    \execout{inB-x}{59}{786}{Ground No Play}
    \bpnode{brH}{82}{772}{142}{803}{hgray}{\icb Branch}
    \execin{brH-in}{87}{786}{}
    \execout{brH-t}{136}{786}{True}
    \pinl{brH-c}{87}{796.5}{rpin}{Condition}
    \execout{brH-f}{136}{796.5}{False}

    \cpvar{varUseB}{22}{799}{67}{812}{glowred}
    \pinr{varUseB-p}{59}{805}{rpin}{Use Targeted?}
    \cpvar{varMwB}{130}{712.5}{179}{724.7}{glowblue}
    \pinr{varMwB-p}{170}{718.5}{bpin}{Motion Warping}
    \node[wdot,minimum width=3.5pt,minimum height=5pt] (varMwB-dot) at (179,710) {};
    \bpsub{locC}{119}{729}{189}{754}{hpure}{\icf Get Actor Location}{Target is Actor}
    \pinl{locC-tg}{126}{748}{bpin}{Target}
    \pinr{locC-r}{183}{748}{ypin}{Return Value}
    \cpvar{varLockB}{44}{745}{114}{757}{glowblue}
    \pinr{varLockB-p}{106}{751}{bpin}{Lock in the Nearest Person}
    \cpvar{varMwC}{130}{832}{179}{844}{glowblue}
    \pinr{varMwC-p}{170}{838}{bpin}{Motion Warping}
    \node[wdot,minimum width=3.5pt,minimum height=5pt] (varMwC-dot) at (179,830) {};
    \cpvar{varDirB}{125}{859}{168}{871}{glowyel}
    \pinr{varDirB-p}{160}{865}{ypin}{Direction}
    \cpvar{varMeshB}{336}{799}{380}{812}{glowblue}
    \pinr{varMeshB-p}{371.5}{805}{bpin}{Mesh}

    \cpmath{getN}{401}{810}{456}{835}{429}{823}{}
    \foreach \gx in {417,426,435}
      \foreach \gy in {811,829}
        \fill[getblue] (\gx,\gy) rectangle ({\gx+6},{\gy+5.5});
    \fill[getblue] (417,817.5) rectangle (441,828);
    \node[text=white!80!black,inner sep=0pt] (getN-t) at (429,823) {\resizebox{14pt}{6.5pt}{GET}};
    \pindot{getN-a}{406}{818}{bring}
    \pindot{getN-i}{406.5}{827}{tpin}
    \pindot{getN-o}{449.5}{822}{bpin}
    \cpvar{varRuler2}{358}{842.5}{445}{854.6}{glowblue}
    \pinr{varRuler2-p}{438}{848.5}{bring}{Ground Whack Attack Montage Ruler}
    \cpvar{varWhackB}{358}{864}{418.5}{876}{glowteal}
    \pinr{varWhackB-p}{410.5}{870}{tpin}{Whack Attack Counter}

    \begin{pgfonlayer}{wirelayer}
      \wirex{inB-x}{brH-in}{6}
      \wirex{brH-t}{warpB-in}{30}
      \wirex{brH-f}{warpC-in}{25}
      \wirex{warpB-out}{montB-in}{12}
      \wirex{warpC-out}{montB-in}{20}
      \wirex{montB-out}{setWhack-in}{8}
      \wirex{setWhack-out}{setCanB-in}{6}
      \wirex{setCanB-out}{setUse-in}{30}
      \wired{rw}{varUseB-p}{brH-c}{10}
      \wired{bw}{varMwB-p}{warpB-tg}{10}
      \wired{bw}{varLockB-p}{locC-tg}{6}
      \wired{yw}{locC-r}{warpB-loc}{6}
      \wired{bw}{varMwC-p}{warpC-tg}{12}
      \wired{yw}{varDirB-p}{warpC-loc}{14}
      \wired{bw}{varMeshB-p}{montB-sk}{16}
      \wired{bw}{getN-o}{montB-mp}{60}
      \wired{bw}{varRuler2-p}{getN-a}{22}
      \wired{tw}{varWhackB-p}{getN-i}{20}
      \wired{tw}{varWhackA-p}{addB-b}{25}
      \wired{tw}{addB-o}{setWhack-v}{20}
    \end{pgfonlayer}
  \end{scope}
\end{tikzpicture}
\end{document}
